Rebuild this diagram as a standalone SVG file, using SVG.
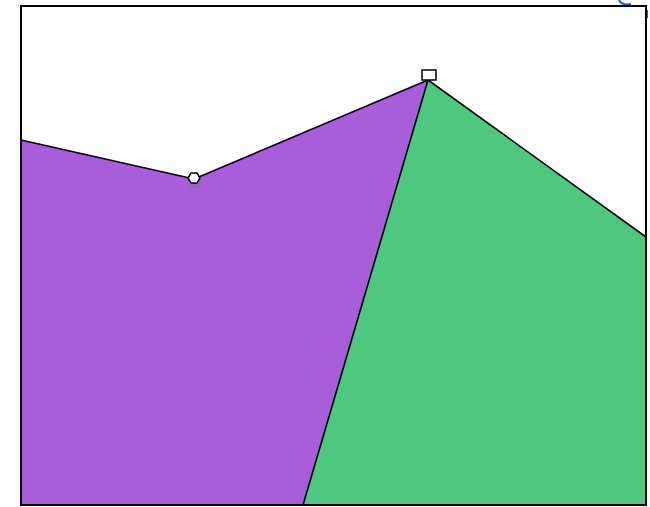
<svg xmlns="http://www.w3.org/2000/svg" width="650" height="507" viewBox="0 0 650 507">
<style>
.edge{fill:none;stroke:#000;stroke-width:1.6;stroke-linejoin:round}
.handle{fill:#fff;stroke:#000;stroke-width:1.5}
</style>
<rect width="650" height="507" fill="#fff"/>
<g id="region-purple"><polygon points="21,140 194,179 428,80 303,505 21,505" fill="#a95ed9"/></g>
<g id="region-green"><polygon points="428,80 646,237 646,505 303,505" fill="#50c77f"/></g>
<g id="connectors">
<polyline class="edge" points="21,140 194,179 428,80 646,237"/>
<line class="edge" x1="428" y1="80" x2="303" y2="505"/>
<path d="M619,0 Q622,6 631,4" fill="none" stroke="#2a55c8" stroke-width="2"/>
<path d="M647,10 L647,18" fill="none" stroke="#2a55c8" stroke-width="2"/>
</g>
<rect x="21" y="6" width="625" height="499" fill="none" stroke="#000" stroke-width="2"/>
<g id="handle-1">
<circle cx="194" cy="183" r="4.5" fill="none" stroke="#3a9a3a" stroke-width="1.2" stroke-dasharray="1.5,1.5"/>
<polygon class="handle" points="191,173 197,173 200,178 197,183 191,183 188,178"/>
</g>
<g id="handle-2">
<rect class="handle" x="422" y="70" width="14" height="10"/>
</g>
</svg>
